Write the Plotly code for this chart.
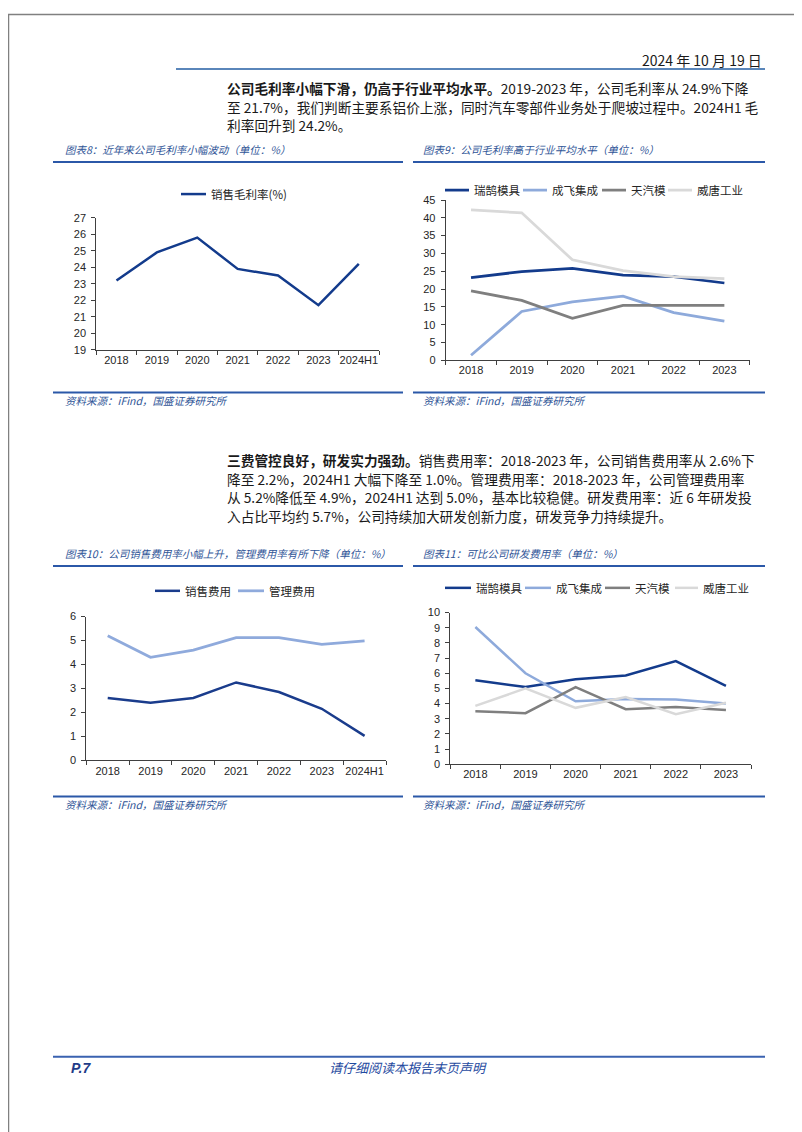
import plotly.graph_objects as go

W, H = 802, 1132


def X(px):
    return px / W


def Y(py):
    return 1 - py / H


# ---------------- data ----------------
years7 = ["2018", "2019", "2020", "2021", "2022", "2023", "2024H1"]
years6 = ["2018", "2019", "2020", "2021", "2022", "2023"]

gross_margin = [23.2, 24.9, 25.8, 23.9, 23.5, 21.7, 24.2]

gm_names = ["瑞鹄模具", "成飞集成", "天汽模", "威唐工业"]
gm_ruihu = [23.2, 24.9, 25.8, 23.9, 23.5, 21.7]
gm_chengfei = [1.4, 13.7, 16.4, 18.0, 13.4, 11.0]
gm_tianqimo = [19.5, 16.8, 11.8, 15.4, 15.4, 15.4]
gm_weitang = [42.2, 41.4, 28.2, 25.2, 23.5, 22.9]

selling_rate = [2.6, 2.4, 2.6, 3.25, 2.85, 2.15, 1.02]
admin_rate = [5.2, 4.3, 4.6, 5.12, 5.12, 4.84, 4.98]

rd_ruihu = [5.54, 5.09, 5.6, 5.85, 6.8, 5.17]
rd_chengfei = [9.05, 6.0, 4.15, 4.3, 4.27, 4.0]
rd_tianqimo = [3.5, 3.37, 5.08, 3.63, 3.78, 3.57]
rd_weitang = [3.85, 5.0, 3.72, 4.43, 3.3, 4.05]

C_DARK = "#133b8c"
C_LIGHT = "#8eaadb"
C_GRAY = "#7f7f7f"
C_LGRAY = "#d9d9d9"
comp_colors = [C_DARK, C_LIGHT, C_GRAY, C_LGRAY]

CJK = "Noto Sans CJK SC"
TICKFONT = dict(family="Liberation Sans, Arial, sans-serif", size=11, color="#262626")
BLUE_TXT = "#2f5597"

fig = go.Figure()

# chart 8
fig.add_trace(go.Scatter(x=years7, y=gross_margin, mode="lines", name="销售毛利率(%)",
                         line=dict(color=C_DARK, width=2.5), xaxis="x", yaxis="y"))
# chart 9
for nm, vals, col in zip(gm_names, [gm_ruihu, gm_chengfei, gm_tianqimo, gm_weitang], comp_colors):
    fig.add_trace(go.Scatter(x=years6, y=vals, mode="lines", name=nm,
                             line=dict(color=col, width=2.75), xaxis="x2", yaxis="y2"))
# chart 10
fig.add_trace(go.Scatter(x=years7, y=selling_rate, mode="lines", name="销售费用",
                         line=dict(color="#1a3c8c", width=2.5), xaxis="x3", yaxis="y3"))
fig.add_trace(go.Scatter(x=years7, y=admin_rate, mode="lines", name="管理费用",
                         line=dict(color="#8faadc", width=2.75), xaxis="x3", yaxis="y3"))
# chart 11
for nm, vals, col in zip(gm_names, [rd_ruihu, rd_chengfei, rd_tianqimo, rd_weitang], comp_colors):
    fig.add_trace(go.Scatter(x=years6, y=vals, mode="lines", name=nm,
                             line=dict(color=col, width=2.5), xaxis="x4", yaxis="y4"))

AX = dict(showline=True, linecolor="#404040", linewidth=1, ticks="outside", ticklen=4,
          tickcolor="#404040", showgrid=False, zeroline=False, tickfont=TICKFONT, fixedrange=True)


def xax(dom, n):
    d = dict(AX)
    d.update(domain=[X(dom[0]), X(dom[1])], type="category", tickson="boundaries",
             range=[-0.5, n - 0.5], tickangle=0)
    return d


def yax(dom, rng, dt, anchor):
    d = dict(AX)
    d.update(domain=[Y(dom[1]), Y(dom[0])], range=rng, dtick=dt, tick0=0,
             tickmode="linear", anchor=anchor, ticklabelstandoff=3)
    return d


fig.update_layout(
    width=W, height=H, margin=dict(l=0, r=0, t=0, b=0),
    paper_bgcolor="white", plot_bgcolor="white", showlegend=False,
    xaxis=dict(xax((88.3, 371), 7), anchor="y"),
    yaxis=yax((206, 339.3), [19, 27], 1, "x"),
    xaxis2=dict(xax((437.7, 741.7), 6), anchor="y2"),
    yaxis2=yax((188, 350), [0, 45], 5, "x2"),
    xaxis3=dict(xax((78.3, 378), 7), anchor="y3"),
    yaxis3=yax((609, 754.3), [0, 6], 1, "x3"),
    xaxis4=dict(xax((442.3, 743), 6), anchor="y4"),
    yaxis4=yax((605, 758.3), [0, 10], 1, "x4"),
)

shapes = []


def hline(x0, x1, y, color, width):
    shapes.append(dict(type="line", xref="paper", yref="paper", x0=X(x0), x1=X(x1),
                       y0=Y(y), y1=Y(y), line=dict(color=color, width=width)))


# page border
shapes.append(dict(type="rect", xref="paper", yref="paper", x0=X(0.5), x1=X(801.5),
                   y0=Y(1131.5), y1=Y(0.5), line=dict(color="#808080", width=1.5)))
hline(168, 757, 55.5, "#5a86ba", 2)
for yy in (149.5, 382.5, 558, 791):
    hline(45, 395, yy, "#2b58a8", 2)
    hline(405, 757, yy, "#2b58a8", 2)
hline(45, 757, 1054, "#3a62b0", 2)

annotations = []


def txt(x, y, s, size=14, color="#1a1a1a", anchor="left", family=CJK, style="normal", weight="normal"):
    annotations.append(dict(x=X(x), y=Y(y), xref="paper", yref="paper", text=s, showarrow=False,
                            xanchor=anchor, yanchor="middle",
                            font=dict(family=family, size=size, color=color, style=style,
                                      weight=weight)))


def legend_item(x0, x1, y, color, width, label):
    hline(x0, x1, y, color, width)
    txt(x1 + 3, y, label, size=11.5, color="#262626")


# header
txt(756, 46, "2024 年 10 月 19 日", size=14, anchor="right")

# paragraph 1
p1 = [
    "<b>公司毛利率小幅下滑，仍高于行业平均水平。</b>2019-2023 年，公司毛利率从 24.9%下降",
    "至 21.7%，我们判断主要系铝价上涨，同时汽车零部件业务处于爬坡过程中。2024H1 毛",
    "利率回升到 24.2%。",
]
for i, s in enumerate(p1):
    txt(217, 75 + i * 18.5, s, size=13.7)

# paragraph 2
p2 = [
    "<b>三费管控良好，研发实力强劲。</b>销售费用率：2018-2023 年，公司销售费用率从 2.6%下",
    "降至 2.2%，2024H1 大幅下降至 1.0%。管理费用率：2018-2023 年，公司管理费用率",
    "从 5.2%降低至 4.9%，2024H1 达到 5.0%，基本比较稳健。研发费用率：近 6 年研发投",
    "入占比平均约 5.7%，公司持续加大研发创新力度，研发竞争力持续提升。",
]
for i, s in enumerate(p2):
    txt(217, 451 + i * 18.8, s, size=13.7)

# captions
cap = dict(size=10.5, color=BLUE_TXT, style="italic")
txt(55, 137, "图表8：近年来公司毛利率小幅波动（单位：%）", **cap)
txt(413, 137, "图表9：公司毛利率高于行业平均水平（单位：%）", **cap)
txt(55, 545, "图表10：公司销售费用率小幅上升，管理费用率有所下降（单位：%）", **cap)
txt(413, 545, "图表11：可比公司研发费用率（单位：%）", **cap)
for (sx, sy) in ((55, 391), (413, 391), (55, 799), (413, 799)):
    txt(sx, sy, "资料来源：iFind，国盛证券研究所", **cap)

# legends
legend_item(173, 198, 182, C_DARK, 2.5, "销售毛利率(%)")
for (a, b), nm, col in zip([(437, 461), (515, 539), (594, 618), (660, 684)], gm_names, comp_colors):
    legend_item(a, b, 178, col, 2.75, nm)
legend_item(147, 172, 583, "#1a3c8c", 2.5, "销售费用")
legend_item(230, 256, 583, "#8faadc", 2.75, "管理费用")
for (a, b), nm, col in zip([(437, 463), (517, 543), (597, 622), (667, 690)], gm_names, comp_colors):
    legend_item(a, b, 580, col, 2.5, nm)

# footer
txt(61, 1065, "P.7", size=14, color="#1f3c88", style="italic", weight="bold",
    family="Liberation Sans, Arial, sans-serif")
txt(400, 1065, "请仔细阅读本报告末页声明", size=13, color="#1f4aa0", anchor="center", style="italic")

fig.update_layout(shapes=shapes, annotations=annotations)
fig.write_html("out.html")
